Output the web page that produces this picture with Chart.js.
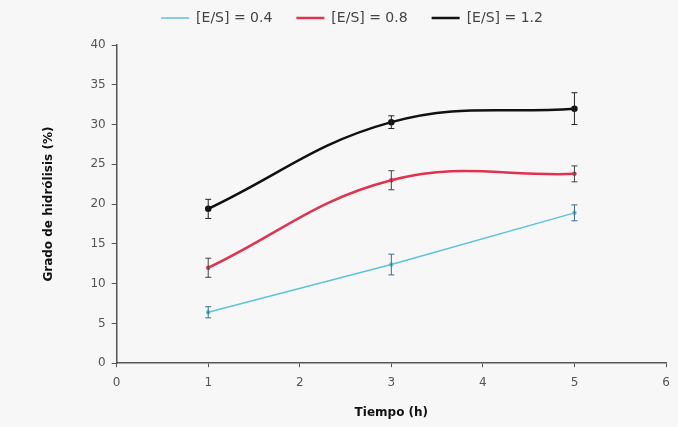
<!DOCTYPE html>
<html>
<head>
<meta charset="utf-8">
<script src="https://cdn.jsdelivr.net/npm/chart.js@4"></script>
<style>
  html, body { margin: 0; padding: 0; background: #f7f7f7; }
  #wrap { width: 678px; height: 427px; }
</style>
</head>
<body>
<div id="wrap"><canvas id="chart" width="678" height="427"></canvas></div>
<script>
// hours
const tiempo = [1, 3, 5];

// degree of hydrolysis (%) per enzyme/substrate ratio
const es04 = [6.4, 12.4, 18.9];
const es08 = [12.0, 23.0, 23.8];
const es12 = [19.4, 30.3, 32.0];

// error bars (+/-)
const err04 = [0.7, 1.3, 1.0];
const err08 = [1.2, 1.2, 1.0];
const err12 = [1.2, 0.8, 2.0];

const seriesLabels = ['[E/S] = 0.4', '[E/S] = 0.8', '[E/S] = 1.2'];

function toPoints(ys) {
  return tiempo.map((x, i) => ({ x: x, y: ys[i] }));
}

// draws vertical error bars with small caps
const errorBars = {
  id: 'errorBars',
  afterDatasetsDraw(chart) {
    const ctx = chart.ctx;
    const xs = chart.scales.x;
    const ys = chart.scales.y;
    chart.data.datasets.forEach(ds => {
      ctx.save();
      ctx.strokeStyle = ds.errColor;
      ctx.lineWidth = 1;
      ds.data.forEach((p, i) => {
        const e = ds.errors[i];
        const px = xs.getPixelForValue(p.x);
        const top = ys.getPixelForValue(p.y + e);
        const bot = ys.getPixelForValue(p.y - e);
        ctx.beginPath();
        ctx.moveTo(px, top);
        ctx.lineTo(px, bot);
        ctx.moveTo(px - 3, top);
        ctx.lineTo(px + 3, top);
        ctx.moveTo(px - 3, bot);
        ctx.lineTo(px + 3, bot);
        ctx.stroke();
      });
      ctx.restore();
    });
  }
};

// keep the legend band a fixed height so the plot starts where the original does
const legendHeight = {
  id: 'legendHeight',
  beforeInit(chart) {
    const fit = chart.legend.fit;
    chart.legend.fit = function () {
      fit.call(this);
      this.height = 58;
    };
  }
};

const ctx = document.getElementById('chart').getContext('2d');
new Chart(ctx, {
  type: 'line',
  data: {
    datasets: [
      {
        label: seriesLabels[0],
        data: toPoints(es04),
        errors: err04,
        errColor: '#3a6f8a',
        borderColor: '#5cc4d6',
        backgroundColor: '#3a6f8a',
        borderWidth: 1.5,
        pointRadius: 1.5,
        tension: 0
      },
      {
        label: seriesLabels[1],
        data: toPoints(es08),
        errors: err08,
        errColor: '#444',
        borderColor: '#e0334f',
        backgroundColor: '#e0334f',
        borderWidth: 2.5,
        pointRadius: 1,
        tension: 0.4
      },
      {
        label: seriesLabels[2],
        data: toPoints(es12),
        errors: err12,
        errColor: '#222',
        borderColor: '#111',
        backgroundColor: '#111',
        borderWidth: 2.5,
        pointRadius: 2,
        tension: 0.4
      }
    ]
  },
  options: {
    responsive: false,
    animation: false,
    layout: { padding: { left: 38, right: 12, top: -13, bottom: 3 } },
    plugins: {
      legend: {
        position: 'top',
        labels: {
          usePointStyle: true,
          pointStyle: 'line',
          pointStyleWidth: 28,
          boxHeight: 2,
          padding: 24,
          color: '#444',
          font: { family: 'DejaVu Sans', size: 14 }
        }
      },
      tooltip: { enabled: false }
    },
    scales: {
      x: {
        type: 'linear',
        min: 0,
        max: 6,
        ticks: { stepSize: 1, color: '#555', padding: 8, font: { family: 'DejaVu Sans', size: 12 } },
        grid: { drawOnChartArea: false, drawTicks: true, tickLength: 4, color: '#555' },
        border: { color: '#555', width: 1.5 },
        title: { display: true, text: 'Tiempo (h)', color: '#111', padding: { top: 8 }, font: { family: 'DejaVu Sans', size: 12, weight: 'bold' } }
      },
      y: {
        min: 0,
        max: 40,
        ticks: { stepSize: 5, color: '#555', padding: 6, font: { family: 'DejaVu Sans', size: 12 } },
        grid: { drawOnChartArea: false, drawTicks: true, tickLength: 5, color: '#555' },
        border: { color: '#555', width: 1.5 },
        title: { display: true, text: 'Grado de hidrólisis (%)', color: '#111', padding: { bottom: 28 }, font: { family: 'DejaVu Sans', size: 12, weight: 'bold' } }
      }
    }
  },
  plugins: [errorBars, legendHeight]
});
</script>
</body>
</html>
